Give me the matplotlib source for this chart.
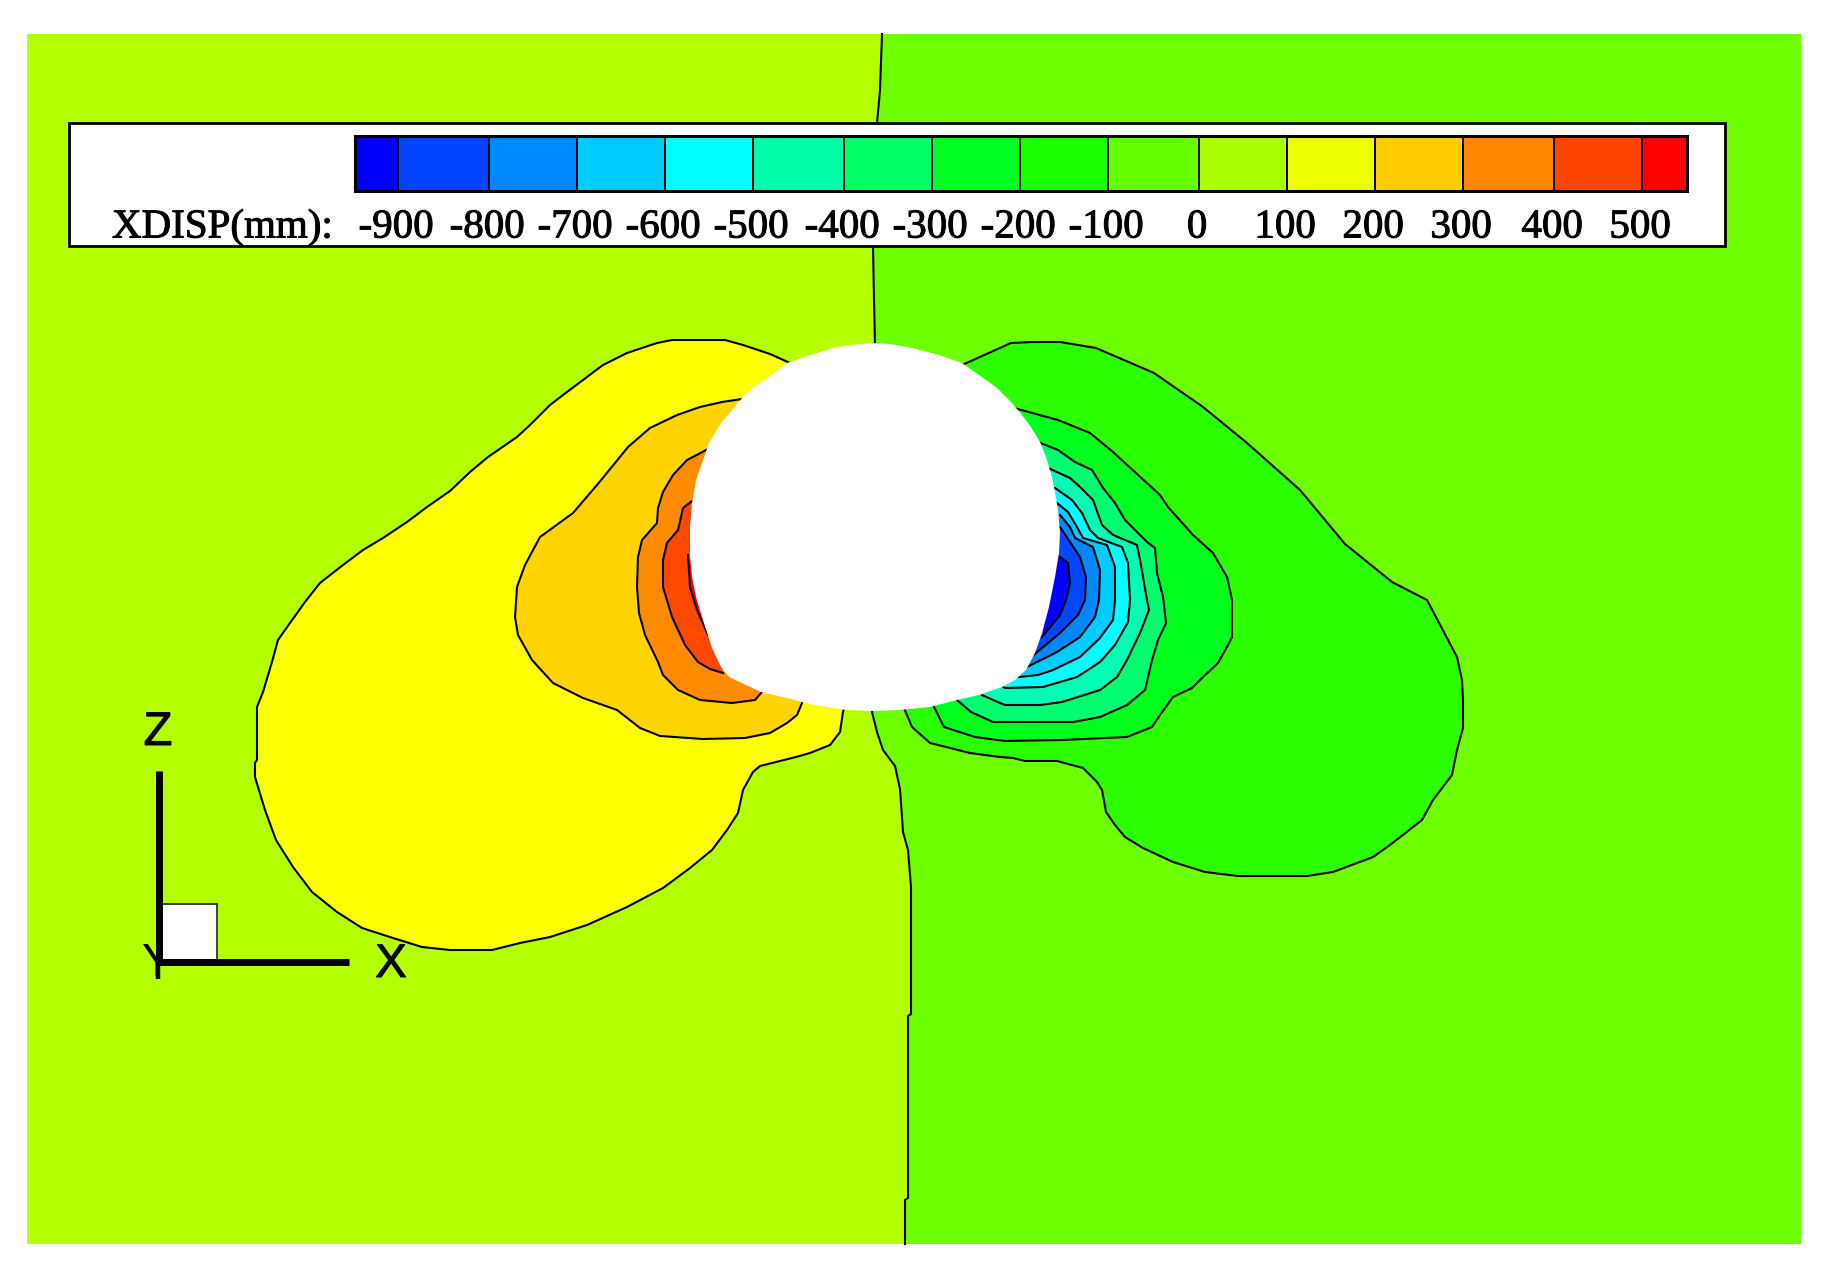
import matplotlib
matplotlib.use('Agg')
import matplotlib.pyplot as plt
import matplotlib.patheffects as pe
from matplotlib.patches import Rectangle, Polygon

# everything is in reference pixels, y going down
zero_line = [(882, 34), (880, 90), (877, 123), (873, 246), (874, 300), (875, 345), (872, 712), (877, 732),
             (883, 750), (895, 766), (900, 789), (903, 832), (908, 850), (911, 887), (911, 1014), (908, 1016),
             (908, 1198), (905, 1200), (905, 1244)]

# positive side, from outer contour to inner contour
pos_100 = [(790, 363), (770, 354), (743, 345), (725, 340), (672, 340), (657, 343), (627, 353), (603, 365),
           (583, 380), (567, 392), (550, 405), (530, 425), (517, 437), (488, 457), (470, 472), (450, 491),
           (427, 507), (407, 522), (383, 538), (363, 550), (343, 565), (320, 583), (305, 602), (290, 623),
           (278, 640), (272, 662), (263, 692), (257, 707), (257, 760), (255, 763), (255, 777), (265, 810),
           (276, 840), (293, 867), (312, 892), (337, 912), (362, 928), (393, 938), (422, 947), (450, 950),
           (492, 950), (520, 943), (550, 937), (587, 925), (627, 907), (663, 888), (690, 868), (712, 850),
           (727, 830), (738, 813), (743, 790), (753, 772), (760, 766), (796, 757), (810, 753), (830, 745),
           (840, 732), (843, 712), (845, 705)]
pos_200 = [(742, 399), (722, 402), (700, 407), (677, 415), (650, 428), (628, 447), (615, 463), (597, 485),
           (573, 513), (540, 537), (525, 565), (517, 587), (515, 617), (518, 635), (532, 660), (553, 683),
           (583, 698), (617, 710), (640, 728), (660, 736), (703, 739), (745, 738), (770, 733), (787, 723),
           (797, 715), (802, 703)]
pos_300 = [(708, 449), (687, 460), (673, 475), (663, 492), (658, 508), (657, 523), (642, 540), (638, 557),
           (637, 587), (639, 613), (645, 635), (658, 662), (663, 675), (678, 690), (700, 700), (732, 703),
           (755, 700), (762, 692)]
pos_400 = [(692, 501), (683, 508), (678, 530), (667, 543), (663, 560), (663, 587), (672, 617), (685, 645),
           (698, 662), (710, 669), (723, 673)]
pos_500 = [(688, 555), (690, 587), (697, 610), (708, 635)]

# negative side
neg_100 = [(962, 365), (1011, 343), (1033, 342), (1060, 342), (1096, 348), (1154, 373), (1203, 407), (1247, 443),
           (1300, 490), (1345, 544), (1392, 582), (1427, 600), (1457, 657), (1462, 680), (1463, 700), (1463, 728),
           (1457, 750), (1452, 775), (1433, 800), (1422, 820), (1390, 845), (1373, 857), (1333, 872), (1307, 876),
           (1238, 876), (1205, 872), (1173, 862), (1143, 848), (1125, 837), (1115, 825), (1106, 812), (1102, 790),
           (1097, 782), (1083, 768), (1057, 761), (1025, 761), (1013, 758), (1000, 757), (970, 753), (930, 743),
           (912, 727), (904, 708)]
neg_200 = [(1014, 408), (1058, 420), (1090, 433), (1113, 452), (1160, 495), (1168, 507), (1193, 535), (1213, 553),
           (1227, 577), (1232, 600), (1232, 637), (1228, 645), (1218, 663), (1203, 677), (1192, 688), (1173, 697),
           (1160, 715), (1152, 727), (1127, 737), (1062, 740), (1005, 741), (975, 737), (944, 727), (933, 705)]
neg_300 = [(1038, 442), (1058, 450), (1075, 462), (1092, 470), (1103, 488), (1115, 503), (1125, 520), (1147, 542),
           (1155, 548), (1157, 573), (1163, 597), (1166, 623), (1158, 640), (1152, 660), (1145, 690), (1127, 705),
           (1100, 717), (1073, 722), (1000, 722), (993, 722), (971, 712), (957, 700)]
neg_400 = [(1048, 468), (1070, 478), (1080, 487), (1093, 500), (1102, 525), (1113, 535), (1137, 545), (1140, 560),
           (1147, 600), (1149, 610), (1140, 633), (1127, 660), (1117, 677), (1100, 690), (1062, 702), (1040, 705),
           (1005, 705), (1000, 703), (982, 695)]
neg_500 = [(1055, 488), (1072, 500), (1082, 513), (1090, 530), (1098, 538), (1122, 547), (1128, 563), (1130, 600),
           (1128, 622), (1115, 645), (1100, 662), (1077, 677), (1043, 687), (1005, 688), (1002, 686)]
neg_600 = [(1057, 503), (1068, 512), (1077, 527), (1083, 538), (1107, 545), (1115, 567), (1115, 600), (1113, 620),
           (1100, 638), (1080, 657), (1053, 670), (1038, 675), (1019, 677)]
neg_700 = [(1060, 515), (1070, 527), (1075, 538), (1093, 547), (1100, 570), (1099, 600), (1095, 617), (1080, 637),
           (1057, 652), (1027, 667)]
neg_800 = [(1060, 527), (1070, 542), (1080, 557), (1086, 577), (1085, 600), (1078, 615), (1060, 633), (1030, 658)]
neg_900 = [(1057, 555), (1068, 563), (1070, 583), (1066, 600), (1060, 615), (1042, 637)]

tunnel = [(872, 343), (890, 344), (912, 348), (939, 355), (962, 363), (979, 375), (997, 388), (1011, 402),
          (1022, 415), (1031, 427), (1040, 442), (1046, 457), (1052, 477), (1055, 493), (1058, 510), (1060, 533),
          (1059, 553), (1055, 577), (1049, 607), (1042, 633), (1035, 653), (1026, 670), (1015, 680), (1002, 687),
          (979, 695), (957, 700), (930, 707), (899, 710), (872, 711), (846, 710), (814, 705), (787, 698),
          (761, 692), (729, 677), (721, 667), (712, 648), (703, 620), (696, 597), (692, 577), (690, 553),
          (690, 527), (692, 503), (696, 480), (703, 460), (709, 443), (721, 423), (743, 397), (754, 387),
          (774, 373), (787, 363), (810, 355), (837, 347), (859, 344)]

pos_contours = [pos_100, pos_200, pos_300, pos_400, pos_500]
pos_colors = ['#ffff00', '#ffd400', '#ff8c00', '#ff4800', '#ff0000']
neg_contours = [neg_100, neg_200, neg_300, neg_400, neg_500, neg_600, neg_700, neg_800, neg_900]
neg_colors = ['#2cff00', '#00ff1c', '#00ff70', '#00ffb4', '#00ffff', '#00ccff', '#0088ff', '#0048ff', '#0000ff']

bar_levels = [-900, -800, -700, -600, -500, -400, -300, -200, -100, 0, 100, 200, 300, 400, 500]
bar_edges = [398, 489, 577, 665, 753, 844, 932, 1020, 1108, 1199, 1287, 1375, 1463, 1554, 1642]
bar_colors = ['#0000ff', '#0044ff', '#0088ff', '#00ccff', '#00ffff', '#00ffaa', '#00ff66', '#00ff22',
              '#1aff00', '#66ff00', '#aaff00', '#eeff00', '#ffcc00', '#ff8800', '#ff4400', '#ff0000']

fig = plt.figure(figsize=(18.33, 12.83), dpi=100)
ax = fig.add_axes([0, 0, 1, 1])
ax.set_xlim(0, 1833)
ax.set_ylim(1283, 0)
ax.axis('off')

LW = 1.5
heavy = [pe.withStroke(linewidth=0.7, foreground='black')]

ax.add_patch(Rectangle((27, 34), 1774, 1210, fc='#b4ff00', ec='none', zorder=1))
ax.add_patch(Polygon(zero_line + [(1801, 1244), (1801, 34)], closed=True, fc='#6eff00', ec='none', zorder=1))
ax.plot(*zip(*zero_line), color='black', lw=LW, zorder=2)

z = 3
for pts, col in zip(pos_contours + neg_contours, pos_colors + neg_colors):
    ax.add_patch(Polygon(pts, closed=True, fc=col, ec='none', zorder=z))
    ax.plot(*zip(*pts), color='black', lw=LW, zorder=z + 0.5)
    z += 1

ax.add_patch(Polygon(tunnel, closed=True, fc='white', ec='none', zorder=30))

# legend box
ax.add_patch(Rectangle((69, 123), 1656, 123, fc='white', ec='black', lw=2, zorder=40))
edges = [355] + bar_edges + [1687]
for i, col in enumerate(bar_colors):
    ax.add_patch(Rectangle((edges[i], 136), edges[i + 1] - edges[i], 55, fc=col, ec='black', lw=1.4, zorder=41))
ax.add_patch(Rectangle((355, 136), 1332, 55, fc='none', ec='black', lw=2.2, zorder=42))

for lev, x in zip(bar_levels, bar_edges):
    ax.text(x - 2, 228, str(lev), family='Liberation Serif', fontsize=29.5, ha='center', va='center', zorder=43,
            path_effects=heavy)
ax.text(112, 228, 'XDISP(mm):', family='Liberation Serif', fontsize=29.5, ha='left', va='center', zorder=43,
        path_effects=heavy)

# axis triad
ax.text(158, 964, 'Y', family='Liberation Sans', fontsize=34, ha='center', va='center', zorder=44)
ax.add_patch(Rectangle((160, 904), 57, 56, fc='white', ec='#222222', lw=1.2, zorder=45))
ax.plot([159.5, 159.5], [771, 962], color='black', lw=5, solid_capstyle='butt', zorder=46)
ax.plot([156, 349], [961.5, 961.5], color='black', lw=5, solid_capstyle='butt', zorder=46)
ax.plot([158.5, 158.5], [960, 979], color='black', lw=3.2, solid_capstyle='butt', zorder=46)
ax.text(158, 733, 'Z', family='Liberation Sans', fontsize=34, ha='center', va='center', zorder=46,
        path_effects=heavy)
ax.text(391, 965, 'X', family='Liberation Sans', fontsize=34, ha='center', va='center', zorder=46,
        path_effects=heavy)

fig.savefig('out.png', dpi=100, facecolor='white')
